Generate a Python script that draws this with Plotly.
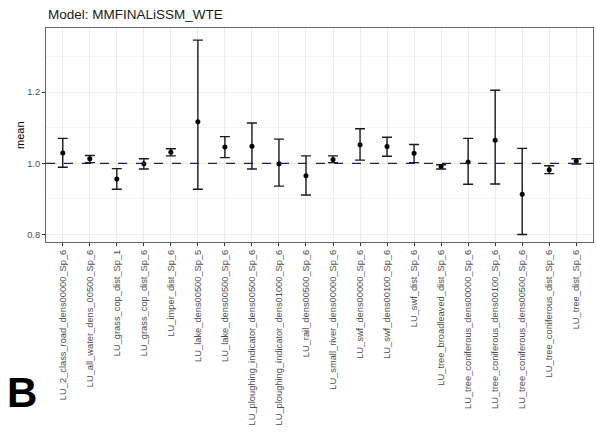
import plotly.graph_objects as go

# Land-use covariates in the model
categories = [
    "LU_2_class_road_dens00000_Sp_6",
    "LU_all_water_dens_00500_Sp_6",
    "LU_grass_cop_dist_Sp_1",
    "LU_grass_cop_dist_Sp_6",
    "LU_imper_dist_Sp_6",
    "LU_lake_dens00500_Sp_5",
    "LU_lake_dens00500_Sp_6",
    "LU_ploughing_indicator_dens00500_Sp_6",
    "LU_ploughing_indicator_dens01000_Sp_6",
    "LU_rail_dens00500_Sp_6",
    "LU_small_river_dens00000_Sp_6",
    "LU_swf_dens00000_Sp_6",
    "LU_swf_dens00100_Sp_6",
    "LU_swf_dist_Sp_6",
    "LU_tree_broadleaved_dist_Sp_6",
    "LU_tree_coniferous_dens00000_Sp_6",
    "LU_tree_coniferous_dens00100_Sp_6",
    "LU_tree_coniferous_dens00500_Sp_6",
    "LU_tree_coniferous_dist_Sp_6",
    "LU_tree_dist_Sp_6",
]

mean = [1.029, 1.013, 0.956, 0.999, 1.031, 1.117, 1.046, 1.048, 0.999, 0.965,
        1.011, 1.052, 1.047, 1.028, 0.991, 1.004, 1.065, 0.913, 0.982, 1.006]
lower = [0.989, 1.002, 0.927, 0.984, 1.021, 0.927, 1.016, 0.984, 0.936, 0.911,
         1.002, 1.009, 1.020, 1.002, 0.984, 0.941, 0.942, 0.800, 0.971, 0.998]
upper = [1.070, 1.022, 0.985, 1.013, 1.041, 1.346, 1.075, 1.113, 1.068, 1.021,
         1.021, 1.097, 1.073, 1.053, 0.996, 1.070, 1.205, 1.042, 0.993, 1.013]

y_ticks = [0.8, 1.0, 1.2]
y_tick_text = ["0.8", "1.0", "1.2"]
reference_value = 1.0

err_plus = [u - m for u, m in zip(upper, mean)]
err_minus = [m - l for m, l in zip(mean, lower)]

fig = go.Figure()
fig.add_trace(go.Scatter(
    x=categories,
    y=mean,
    mode="markers",
    marker=dict(color="black", size=5),
    error_y=dict(
        type="data",
        symmetric=False,
        array=err_plus,
        arrayminus=err_minus,
        color="#1a1a1a",
        thickness=1.4,
        width=5,
    ),
    showlegend=False,
))

fig.add_shape(
    type="line", xref="paper", x0=0, x1=1, yref="y",
    y0=reference_value, y1=reference_value,
    line=dict(color="#1c1c78", width=1.2, dash="dash"),
)

axis_line = dict(showline=True, linecolor="#666666", linewidth=1, mirror=True)
tick_font = dict(family="Liberation Sans, Arial", size=9.3, color="#4d4d4d")

fig.update_xaxes(
    range=[-0.62, 19.62],
    tickangle=-90,
    ticks="outside", ticklen=3, tickcolor="#333333",
    tickfont=tick_font,
    showgrid=True, gridcolor="#ebebeb", gridwidth=1,
    zeroline=False,
    **axis_line,
)
fig.update_yaxes(
    range=[0.779, 1.380],
    tickvals=y_ticks, ticktext=y_tick_text,
    ticks="outside", ticklen=3, tickcolor="#333333",
    tickfont=tick_font,
    showgrid=True, gridcolor="#ebebeb", gridwidth=1,
    minor=dict(dtick=0.1, tick0=0.9, showgrid=True, gridcolor="#f3f3f3", gridwidth=0.6),
    zeroline=False,
    **axis_line,
)

fig.update_layout(
    width=596, height=432,
    margin=dict(l=46, r=3, t=28, b=190),
    paper_bgcolor="white", plot_bgcolor="white",
    font=dict(family="Liberation Sans, Arial"),
    annotations=[
        dict(text="Model: MMFINALiSSM_WTE", xref="paper", yref="paper",
             x=0.0, y=1.0, xanchor="left", yanchor="bottom", yshift=4,
             showarrow=False, font=dict(size=13.5, color="#1a1a1a")),
        dict(text="mean", xref="paper", yref="paper",
             x=-0.0476, y=0.5, xanchor="center", yanchor="middle", textangle=-90,
             showarrow=False, font=dict(size=11, color="black")),
        dict(text="<b>B</b>", xref="paper", yref="paper",
             x=-0.044, y=-0.705, xanchor="center", yanchor="middle",
             showarrow=False, font=dict(size=42, color="black")),
    ],
)

fig.write_html("out.html")
